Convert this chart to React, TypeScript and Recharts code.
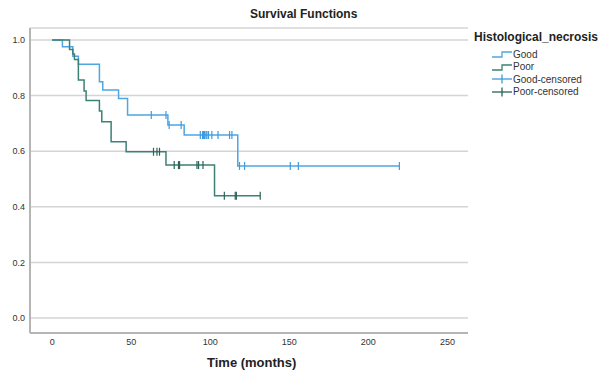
import React from "react";
import { ComposedChart, Line, Scatter, XAxis, YAxis, CartesianGrid } from "recharts";

// Kaplan-Meier step data (time in months, cumulative survival)
const goodTimes = [0, 6.5, 13.1, 16.6, 29.9, 32, 42, 47.7, 73.2, 83.5, 117.4, 219.6];
const goodSurv = [1, 0.976, 0.942, 0.913, 0.85, 0.82, 0.79, 0.73, 0.694, 0.658, 0.547, 0.547];

const poorTimes = [0, 11, 13.1, 14.1, 16.6, 20.2, 21.5, 29.9, 31.4, 37.3, 46.8, 72, 102.7, 131.6];
const poorSurv = [1, 0.966, 0.95, 0.93, 0.856, 0.817, 0.782, 0.745, 0.706, 0.634, 0.598, 0.55, 0.44, 0.44];

const goodCensorTimes = [62.7, 72, 74, 81.6, 93.7, 95.1, 95.8, 96.4, 97.3, 97.9, 98.9, 101, 104.9, 112.2, 113.7, 118.5, 121.7, 150.6, 155.7, 219.6];
const goodCensorSurv = [0.73, 0.73, 0.694, 0.694, 0.658, 0.658, 0.658, 0.658, 0.658, 0.658, 0.658, 0.658, 0.658, 0.658, 0.658, 0.547, 0.547, 0.547, 0.547, 0.547];

const poorCensorTimes = [64.1, 66.3, 67.9, 77.2, 79.9, 80.6, 91.6, 92.6, 95.4, 108.9, 115.8, 116.5, 131.6];
const poorCensorSurv = [0.598, 0.598, 0.598, 0.55, 0.55, 0.55, 0.55, 0.55, 0.55, 0.44, 0.44, 0.44, 0.44];

const xTicks = [0, 50, 100, 150, 200, 250];
const yTicks = [0, 0.2, 0.4, 0.6, 0.8, 1.0];

const seriesNames = ["Good", "Poor", "Good-censored", "Poor-censored"];

const zip = (t: number[], s: number[]) => t.map((v, i) => ({ t: v, s: s[i] }));
const goodData = zip(goodTimes, goodSurv);
const poorData = zip(poorTimes, poorSurv);
const goodCensor = zip(goodCensorTimes, goodCensorSurv);
const poorCensor = zip(poorCensorTimes, poorCensorSurv);

const GOOD = "#4fa6e2";
const POOR = "#3d8176";
const GOOD_C = "#3f9ade";
const POOR_C = "#2c6358";
const FONT = "Arial, 'Liberation Sans', sans-serif";

const censorShape = (color: string) => (props: any) => {
  const { cx, cy } = props;
  return <line x1={cx} x2={cx} y1={cy - 4} y2={cy + 4} stroke={color} strokeWidth={1.2} />;
};

const StepIcon = ({ color }: { color: string }) => (
  <svg width={20} height={10} style={{ display: "block" }}>
    <path d="M0 8 H10 V3 H20" fill="none" stroke={color} strokeWidth={1.3} />
  </svg>
);
const CensorIcon = ({ color }: { color: string }) => (
  <svg width={20} height={10} style={{ display: "block" }}>
    <line x1={0} x2={20} y1={5} y2={5} stroke={color} strokeWidth={1.3} />
    <line x1={10} x2={10} y1={0.5} y2={9.5} stroke={color} strokeWidth={1.3} />
  </svg>
);

export default function App() {
  const icons = [
    <StepIcon color={GOOD} />,
    <StepIcon color={POOR} />,
    <CensorIcon color={GOOD_C} />,
    <CensorIcon color={POOR_C} />,
  ];
  return (
    <div style={{ position: "absolute", left: 0, top: 0, width: 600, height: 370, background: "#fff", fontFamily: FONT, overflow: "hidden" }}>
      <ComposedChart width={600} height={370} margin={{ top: 28, right: 132, bottom: 0, left: 0 }}>
        <CartesianGrid vertical={false} stroke="#d4d4d4" strokeWidth={1.5} />
        <XAxis
          dataKey="t"
          type="number"
          domain={[-14, 263]}
          ticks={xTicks}
          allowDataOverflow
          tickLine={false}
          tickSize={4}
          height={37}
          axisLine={{ stroke: "#b5b5b5", strokeWidth: 2 }}
          tick={{ fontSize: 9, fill: "#333", fontFamily: FONT }}
        />
        <YAxis
          dataKey="s"
          type="number"
          domain={[-0.054, 1.0432]}
          ticks={yTicks}
          allowDataOverflow
          tickLine={false}
          tickSize={3}
          tickMargin={2}
          width={30}
          axisLine={{ stroke: "#b5b5b5", strokeWidth: 2 }}
          tickFormatter={(v: number) => v.toFixed(1)}
          tick={{ fontSize: 9, fill: "#333", fontFamily: FONT }}
        />
        <Line data={goodData} dataKey="s" type="stepAfter" stroke={GOOD} strokeWidth={1.5} dot={false} isAnimationActive={false} name={seriesNames[0]} />
        <Line data={poorData} dataKey="s" type="stepAfter" stroke={POOR} strokeWidth={1.5} dot={false} isAnimationActive={false} name={seriesNames[1]} />
        <Scatter data={goodCensor} dataKey="s" shape={censorShape(GOOD_C)} isAnimationActive={false} name={seriesNames[2]} />
        <Scatter data={poorCensor} dataKey="s" shape={censorShape(POOR_C)} isAnimationActive={false} name={seriesNames[3]} />
      </ComposedChart>

      <div style={{ position: "absolute", left: 250, top: 7, fontSize: 12, fontWeight: "bold", color: "#222", whiteSpace: "nowrap" }}>
        Survival Functions
      </div>
      <div style={{ position: "absolute", left: 207, top: 355, fontSize: 13, fontWeight: "bold", color: "#222", whiteSpace: "nowrap" }}>
        Time (months)
      </div>
      <div style={{ position: "absolute", left: 474, top: 30, fontSize: 12, fontWeight: "bold", color: "#222", whiteSpace: "nowrap" }}>
        Histological_necrosis
      </div>
      {seriesNames.map((n, i) => (
        <div key={n} style={{ position: "absolute", left: 492, top: 48 + i * 12.6, height: 12, display: "flex", alignItems: "center", whiteSpace: "nowrap" }}>
          {icons[i]}
          <span style={{ fontSize: 10, color: "#333", marginLeft: 1 }}>{n}</span>
        </div>
      ))}
    </div>
  );
}
